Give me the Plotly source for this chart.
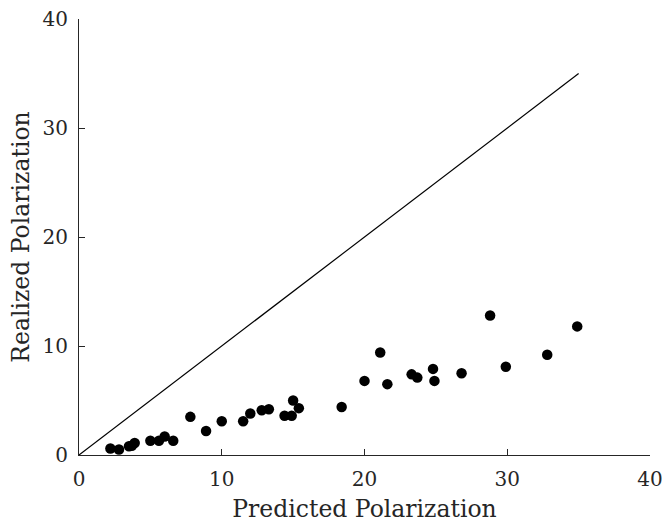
import plotly.graph_objects as go

predicted = [2.2, 2.8, 3.5, 3.7, 3.9, 5.0, 5.6, 6.0, 6.6, 7.8, 8.9, 10.0,
             11.5, 12.0, 12.8, 13.3, 14.4, 14.9, 15.0, 15.4, 18.4, 20.0,
             21.1, 21.6, 23.3, 23.7, 24.8, 24.9, 26.8, 28.8, 29.9, 32.8, 34.9]
realized = [0.6, 0.5, 0.8, 0.85, 1.1, 1.3, 1.3, 1.7, 1.3, 3.5, 2.2, 3.1,
            3.1, 3.8, 4.1, 4.2, 3.6, 3.6, 5.0, 4.3, 4.4, 6.8,
            9.4, 6.5, 7.4, 7.1, 7.9, 6.8, 7.5, 12.8, 8.1, 9.2, 11.8]
line_x = [0, 35]
line_y = [0, 35]
ticks = [0, 10, 20, 30, 40]

font_family = "DejaVu Serif"
axis_color = "#262626"

fig = go.Figure()
fig.add_trace(go.Scatter(x=line_x, y=line_y, mode="lines",
                         line=dict(color="black", width=1.2), hoverinfo="skip"))
fig.add_trace(go.Scatter(x=predicted, y=realized, mode="markers",
                         marker=dict(color="black", size=10.5, line=dict(width=0))))

axis_common = dict(range=[0, 40], tickvals=ticks, ticks="inside", ticklen=6,
                   tickcolor=axis_color, tickwidth=1, showline=True,
                   linecolor=axis_color, linewidth=1, showgrid=False,
                   zeroline=False, mirror=False, automargin=False,
                   ticklabeloverflow="allow",
                   tickfont=dict(family=font_family, size=20, color=axis_color),
                   title_font=dict(family=font_family, size=23.5, color=axis_color))

fig.update_layout(
    width=662, height=523,
    margin=dict(l=79, r=12, t=19, b=68, autoexpand=False),
    paper_bgcolor="white", plot_bgcolor="white",
    showlegend=False,
    xaxis=dict(**axis_common, title=dict(text="Predicted Polarization", standoff=13),
               ticklabelstandoff=6),
    yaxis=dict(**axis_common, title=dict(text="Realized Polarization", standoff=6),
               ticklabelstandoff=6),
)

fig.write_html("out.html")
